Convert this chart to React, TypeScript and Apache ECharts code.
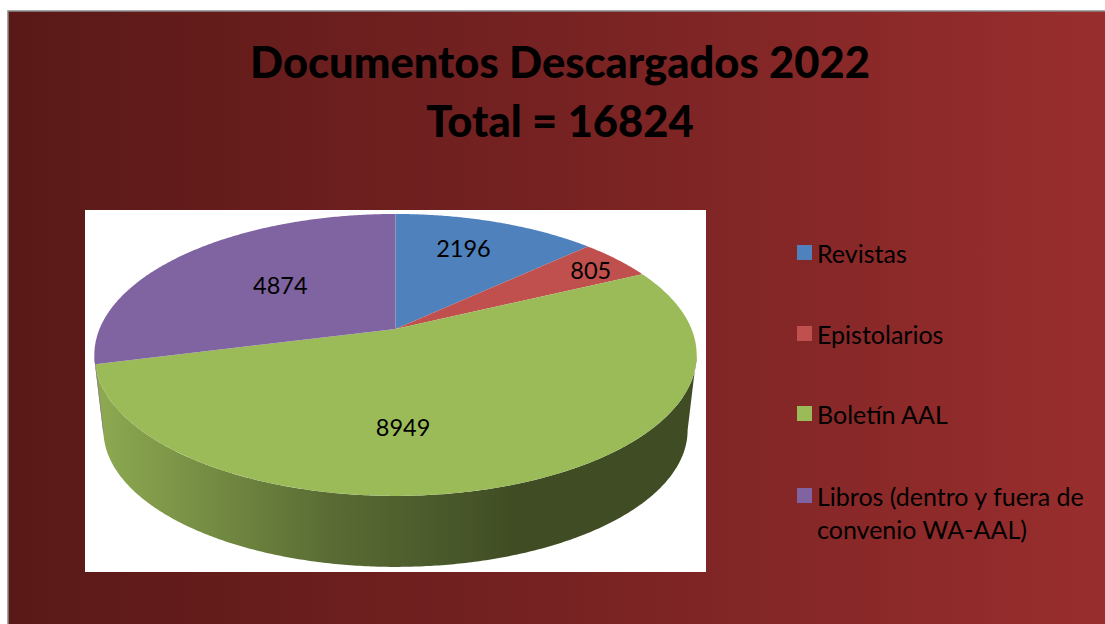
import React, { useEffect, useRef } from "react";
import * as echarts from "echarts";

const categories = ["Revistas", "Epistolarios", "Boletín AAL", "Libros (dentro y fuera de convenio WA-AAL)"];
const values = [2196, 805, 8949, 4874];
const colors = ["#4f81bd", "#c0504d", "#9bbb59", "#8064a2"];
const titleLines = ["Documentos Descargados 2022", "Total = 16824"];

// Layout of the perspective disc (pixels on the page)
const CX = 395.5, CY = 329, RX = 296, RY = 136.2, PERSP = 0.184;
const BOTTOM_SCALE = 0.97, BOTTOM_Y = 405;
// Where each value label sits: fraction along the slice's arc, fraction of the radius
const labelAnchors = [[0.447, 0.72], [0.552, 0.86], [0.594, 0.635], [0.52, 0.54]];
const legendTops = [236, 317, 397, 446];
const FONT = "Lato";

const total = values.reduce((a, b) => a + b, 0);
const toDeg = (i: number) => (values.slice(0, i).reduce((a, b) => a + b, 0) / total) * 360;
const SIL = (Math.acos(-PERSP) * 180) / Math.PI;

function top(deg: number, r: number) {
  const t = (deg * Math.PI) / 180;
  const u = Math.sin(t) * r, v = Math.cos(t) * r, w = 1 + PERSP * v;
  return [CX + (RX * u) / w, CY - (RY * v) / w];
}
function bottom(deg: number) {
  const t = (deg * Math.PI) / 180;
  const u = Math.sin(t), v = Math.cos(t), w = 1 + PERSP * v;
  return [CX + (BOTTOM_SCALE * RX * u) / w, BOTTOM_Y - (BOTTOM_SCALE * RY * v) / w];
}
function arc(a: number, b: number, fn: (d: number) => number[]) {
  const n = Math.max(2, Math.ceil(Math.abs(b - a) * 2));
  const out: number[][] = [];
  for (let i = 0; i <= n; i++) out.push(fn(a + ((b - a) * i) / n));
  return out;
}
function shade(hex: string, f: number) {
  const n = parseInt(hex.slice(1), 16);
  return `rgb(${Math.round(((n >> 16) & 255) * f)},${Math.round(((n >> 8) & 255) * f)},${Math.round((n & 255) * f)})`;
}

function makeRenderItem(index: number) {
  return (_params: any, api: any) => {
    const value = api.value(0);
    const start = toDeg(index);
    const end = start + (value / total) * 360;
    const children: any[] = [];
    const a = Math.max(start, SIL), b = Math.min(end, 360 - SIL);
    if (b > a) {
      children.push({
        type: "polygon",
        silent: true,
        shape: { points: [...arc(a, b, (d) => top(d, 1)), ...arc(b, a, bottom)] },
        style: {
          fill: {
            type: "linear", x: 104, y: 0, x2: 513, y2: 0, global: true,
            colorStops: [
              { offset: 0, color: shade(colors[index], 0.9) },
              { offset: 0.55, color: shade(colors[index], 0.58) },
              { offset: 1, color: shade(colors[index], 0.41) },
            ],
          },
        },
      });
    }
    children.push({
      type: "polygon",
      silent: true,
      shape: { points: [[CX, CY], ...arc(start, end, (d) => top(d, 1))] },
      style: { fill: colors[index] },
    });
    const [fa, fr] = labelAnchors[index];
    const [lx, ly] = top(start + (end - start) * fa, fr);
    children.push({
      type: "text",
      silent: true,
      z2: 10,
      style: {
        text: String(value), x: lx, y: ly, fill: "#000",
        font: `23.5px ${FONT}`, align: "center", verticalAlign: "middle",
      },
    });
    return { type: "group", children };
  };
}

export default function App() {
  const ref = useRef<HTMLDivElement>(null);
  useEffect(() => {
    document.body.style.margin = "0";
    const chart = echarts.init(ref.current!, null, { renderer: "svg" });
    chart.setOption({
      animation: false,
      backgroundColor: "#fff",
      title: {
        text: titleLines.join("\n"),
        left: 560, top: 31, textAlign: "center", padding: 0,
        textStyle: { fontFamily: FONT, fontWeight: 900, fontSize: 43.5, lineHeight: 59, color: "#000" },
      },
      legend: categories.map((name, i) => ({
        data: [{ name, icon: "rect" }],
        left: 797, top: legendTops[i], padding: 0, orient: "vertical",
        itemWidth: 15, itemHeight: 15, itemGap: 0, selectedMode: false,
        textStyle: { fontFamily: FONT, fontSize: 25, lineHeight: 33, color: "#000" },
        formatter: (n: string) =>
          n.startsWith("Libros") ? "\nLibros (dentro y fuera de\nconvenio WA-AAL)" : n,
      })),
      graphic: [
        {
          type: "rect", z: -2, silent: true,
          shape: { x: 8, y: 11, width: 1110, height: 630 },
          style: {
            stroke: "#8a8a8a", lineWidth: 1.5,
            fill: {
              type: "linear", x: 0, y: 0, x2: 1, y2: 0,
              colorStops: [
                { offset: 0, color: "#591917" },
                { offset: 0.5, color: "#772222" },
                { offset: 1, color: "#9a2e2e" },
              ],
            },
          },
        },
        {
          type: "rect", z: -1, silent: true,
          shape: { x: 85, y: 210, width: 621, height: 362 },
          style: { fill: "#fff" },
        },
      ],
      series: categories.map((name, i) => ({
        type: "custom",
        name,
        coordinateSystem: "none",
        silent: true,
        z: 5,
        itemStyle: { color: colors[i] },
        data: [values[i]],
        renderItem: makeRenderItem(i),
      })),
    });
    return () => chart.dispose();
  }, []);
  return <div ref={ref} style={{ width: 1105, height: 624 }} />;
}
